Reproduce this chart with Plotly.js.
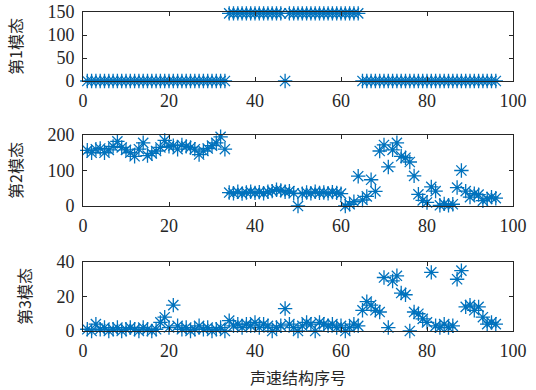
<!DOCTYPE html>
<html>
<head>
<meta charset="utf-8">
<script src="https://cdn.plot.ly/plotly-3.0.1.min.js"></script>
<style>
  html, body { margin: 0; padding: 0; background: #fff; }
  #chart { width: 536px; height: 390px; }
</style>
</head>
<body>
<div id="chart"></div>
<script>
// Sound-speed-profile index (1..96)
const profileIndex = [
  1,2,3,4,5,6,7,8,9,10,11,12,13,14,15,16,17,18,19,20,
  21,22,23,24,25,26,27,28,29,30,31,32,33,34,35,36,37,38,39,40,
  41,42,43,44,45,46,47,48,49,50,51,52,53,54,55,56,57,58,59,60,
  61,62,63,64,65,66,67,68,69,70,71,72,73,74,75,76,77,78,79,80,
  81,82,83,84,85,86,87,88,89,90,91,92,93,94,95,96
];

// Mode 1 coefficients
const mode1 = [
  0,0,0,0,0,0,0,0,0,0,0,0,0,0,0,0,0,0,0,0,
  0,0,0,0,0,0,0,0,0,0,0,0,0,147,147,147,147,147,147,147,
  147,147,147,147,147,147,0,147,147,147,147,147,147,147,147,147,147,147,147,147,
  147,147,147,147,0,0,0,0,0,0,0,0,0,0,0,0,0,0,0,0,
  0,0,0,0,0,0,0,0,0,0,0,0,0,0,0,0
];

// Mode 2 coefficients
const mode2 = [
  157,150,160,162,150,158,168,182,165,158,150,140,160,178,142,148,155,165,185,168,
  170,160,172,168,165,160,145,155,162,170,178,195,160,38,36,40,35,38,40,37,
  39,36,40,42,46,44,40,42,36,0,35,38,36,40,37,38,36,39,37,35,
  0,5,12,84,17,27,74,41,155,172,110,158,178,140,136,124,85,33,16,10,
  54,42,2,6,2,5,52,100,42,25,35,32,15,20,25,22
];

// Mode 3 coefficients
const mode3 = [
  1,0,4,1,2,0,1,2,0,1,2,1,0,2,1,0,1,5,8,2,
  15,3,1,2,0,1,3,1,2,0,1,2,0,6,3,4,2,4,3,5,
  2,4,3,0,2,3,13,4,2,0,3,5,4,0,5,4,3,4,2,3,
  0,2,4,3,12,17,15,12,11,31,2,29,32,22,21,0,11,10,7,5,
  34,3,2,4,2,3,30,35,14,15,12,14,8,4,5,4
];

const xTicks = [0, 20, 40, 60, 80, 100];
const y1Ticks = [0, 50, 100, 150];
const y2Ticks = [0, 100, 200];
const y3Ticks = [0, 20, 40];
const yTitles = ['第1模态', '第2模态', '第3模态'];
const xTitle = '声速结构序号';

const markerColor = '#0072BD';
const axisColor = '#262626';
const numFont = { family: 'Liberation Serif, DejaVu Serif, serif', size: 18, color: axisColor };
const cjkFont = { family: 'Noto Sans CJK SC, sans-serif', size: 16, color: axisColor };

function starTrace(y, xa, ya) {
  return {
    x: profileIndex, y: y, xaxis: xa, yaxis: ya,
    type: 'scatter', mode: 'markers', cliponaxis: false,
    marker: { symbol: 'asterisk-open', size: 12, color: markerColor,
              line: { color: markerColor, width: 1.3 } },
    hoverinfo: 'x+y'
  };
}

function xAxis(anchor) {
  return {
    anchor: anchor, domain: [0, 1], range: [0, 100],
    tickvals: xTicks, ticktext: xTicks.map(String),
    ticks: 'inside', ticklen: 4, tickwidth: 1, tickcolor: axisColor,
    showline: true, linecolor: axisColor, linewidth: 1, mirror: 'ticks',
    showgrid: false, zeroline: false, tickfont: numFont, ticklabelstandoff: 3
  };
}

function yAxis(anchor, domain, range, ticks, title) {
  return {
    anchor: anchor, domain: domain, range: range,
    tickvals: ticks, ticktext: ticks.map(String),
    ticks: 'inside', ticklen: 4, tickwidth: 1, tickcolor: axisColor,
    showline: true, linecolor: axisColor, linewidth: 1, mirror: 'ticks',
    showgrid: false, zeroline: false, tickfont: numFont, ticklabelstandoff: 4,
    title: { text: title, font: cjkFont, standoff: 20 }
  };
}

const data = [
  starTrace(mode1, 'x', 'y'),
  starTrace(mode2, 'x2', 'y2'),
  starTrace(mode3, 'x3', 'y3')
];

const xa3 = xAxis('y3');
xa3.title = { text: xTitle, font: cjkFont, standoff: 13 };

const layout = {
  width: 536, height: 390,
  margin: { l: 83, r: 23, t: 12, b: 59 },
  paper_bgcolor: '#ffffff', plot_bgcolor: '#ffffff',
  showlegend: false,
  xaxis: xAxis('y'),
  xaxis2: xAxis('y2'),
  xaxis3: xa3,
  yaxis: yAxis('x', [0.7837, 1], [0, 150], y1Ticks, yTitles[0]),
  yaxis2: yAxis('x2', [0.3918, 0.6144], [0, 200], y2Ticks, yTitles[1]),
  yaxis3: yAxis('x3', [0, 0.2163], [0, 40], y3Ticks, yTitles[2])
};

Plotly.newPlot('chart', data, layout, { staticPlot: true, displayModeBar: false });
</script>
</body>
</html>
